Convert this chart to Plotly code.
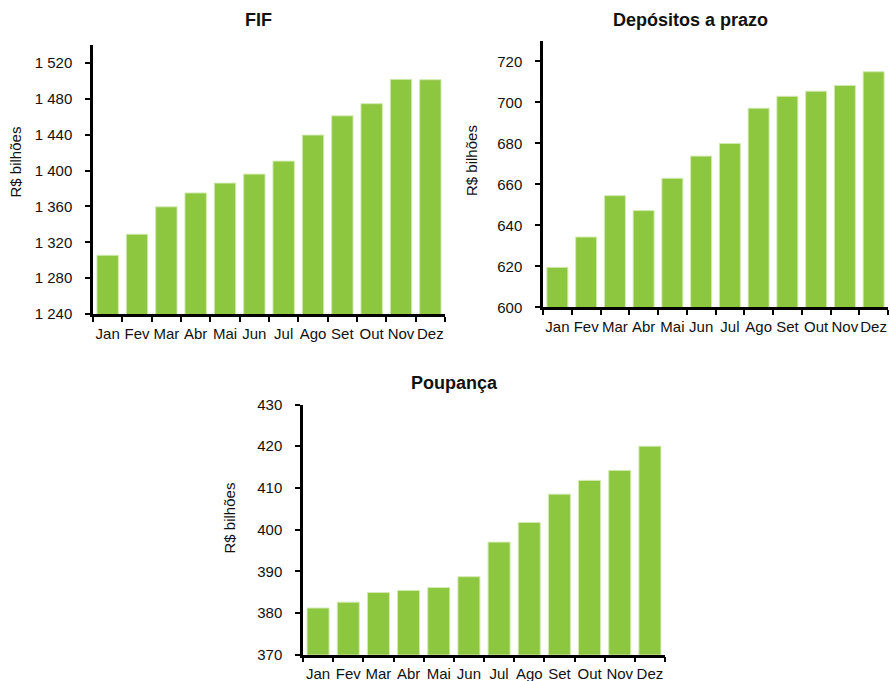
import plotly.graph_objects as go

# Month labels shared by all three panels
meses = ["Jan", "Fev", "Mar", "Abr", "Mai", "Jun", "Jul", "Ago", "Set", "Out", "Nov", "Dez"]

# Balances (R$ bilhões)
fif = [1305.5, 1329, 1359.5, 1375, 1386, 1396, 1410.5, 1439.6, 1461, 1474.6, 1501.7, 1501.3]
depositos = [619.5, 634.3, 654.5, 647.2, 663, 673.8, 680, 697.2, 703, 705.5, 708.3, 715]
poupanca = [381.2, 382.6, 384.9, 385.4, 386.1, 388.7, 397, 401.7, 408.5, 411.8, 414.2, 420]

# Y-axis ticks per panel
fif_ticks = [1240, 1280, 1320, 1360, 1400, 1440, 1480, 1520]
dep_ticks = [600, 620, 640, 660, 680, 700, 720]
pou_ticks = [370, 380, 390, 400, 410, 420, 430]

W, H = 890, 681
FONT = "Liberation Sans, Arial, sans-serif"
BAR = "#8DC63F"
INK = "#111111"


def px_x(v):
    return v / W


def px_y(v):
    return 1 - v / H


fig = go.Figure()

panels = [
    # (values, xaxis id, yaxis id, x domain px, y domain px, y range, ticks)
    (fif, "x", "y", (93, 445), (314, 45), [1240, 1540], fif_ticks),
    (depositos, "x2", "y2", (543, 888), (307.3, 41), [600, 730], dep_ticks),
    (poupanca, "x3", "y3", (303, 665), (654.7, 404.5), [370, 430], pou_ticks),
]

for i, (vals, xa, ya, xd, yd, yr, ticks) in enumerate(panels):
    fig.add_trace(go.Bar(
        x=meses, y=vals, xaxis=xa, yaxis=ya,
        marker=dict(color=BAR, line=dict(color="#d3eab2", width=1)),
        showlegend=False, hoverinfo="x+y",
    ))
    suffix = "" if i == 0 else str(i + 1)
    fig.layout["xaxis" + suffix] = dict(
        domain=[px_x(xd[0]), px_x(xd[1])],
        anchor=ya, type="category", automargin=False,
        showline=True, linecolor="black", linewidth=2.5,
        ticks="outside", tickson="boundaries", ticklen=5, tickwidth=2,
        tickcolor="black", showgrid=False, zeroline=False, tickangle=0,
        tickfont=dict(family=FONT, size=15, color=INK),
        ticklabelstandoff=4, fixedrange=True,
    )
    fig.layout["yaxis" + suffix] = dict(
        domain=[px_y(yd[0]), px_y(yd[1])],
        anchor=xa, range=yr, automargin=False,
        tickvals=ticks, tickformat=",d",
        showline=True, linecolor="black", linewidth=2.5,
        ticks="outside", ticklen=5, tickwidth=2, tickcolor="black",
        showgrid=False, zeroline=False,
        tickfont=dict(family=FONT, size=15, color=INK),
        ticklabelstandoff=10, fixedrange=True,
    )

annotations = []
# Panel titles
for text, x, y in [("FIF", 258.7, 20), ("Depósitos a prazo", 690, 20), ("Poupança", 454, 383)]:
    annotations.append(dict(
        text="<b>%s</b>" % text, x=px_x(x), y=px_y(y), xref="paper", yref="paper",
        xanchor="center", yanchor="middle", showarrow=False,
        font=dict(family=FONT, size=18, color=INK),
    ))
# Y-axis titles
for x, y in [(15, 162.5), (471, 161), (229, 517.5)]:
    annotations.append(dict(
        text="R$ bilhões", x=px_x(x), y=px_y(y), xref="paper", yref="paper",
        xanchor="center", yanchor="middle", showarrow=False, textangle=-90,
        font=dict(family=FONT, size=15, color=INK),
    ))

fig.update_layout(
    width=W, height=H,
    margin=dict(l=0, r=0, t=0, b=0),
    paper_bgcolor="white", plot_bgcolor="white",
    bargap=0.27, separators=", ",
    annotations=annotations,
    font=dict(family=FONT, color=INK),
)

fig.write_html("out.html")
